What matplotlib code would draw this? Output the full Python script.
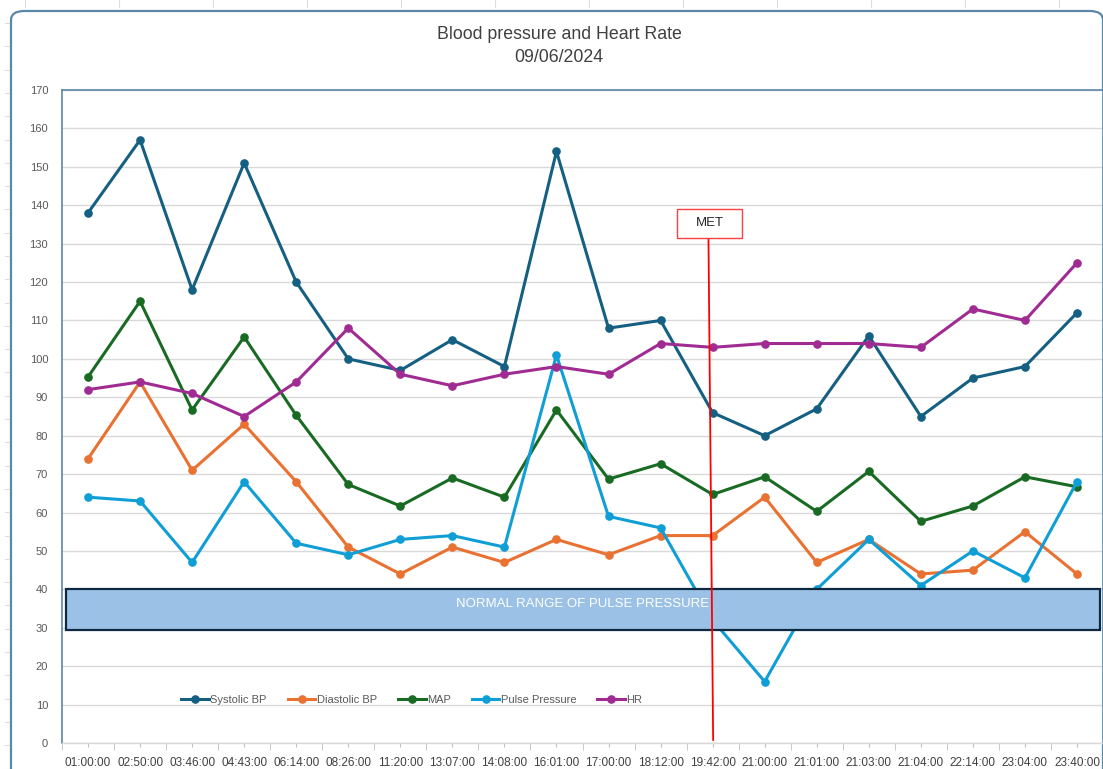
import matplotlib
matplotlib.use("Agg")
import matplotlib.pyplot as plt
import matplotlib.transforms as mtransforms
from matplotlib.patches import Rectangle, FancyBboxPatch
from matplotlib.lines import Line2D
import numpy as np

plt.rcParams['font.family'] = ['Liberation Sans', 'DejaVu Sans']

# readings for 09/06/2024
times = ["01:00:00", "02:50:00", "03:46:00", "04:43:00", "06:14:00", "08:26:00",
         "11:20:00", "13:07:00", "14:08:00", "16:01:00", "17:00:00", "18:12:00",
         "19:42:00", "21:00:00", "21:01:00", "21:03:00", "21:04:00", "22:14:00",
         "23:04:00", "23:40:00"]
systolic = [138, 157, 118, 151, 120, 100, 97, 105, 98, 154, 108, 110, 86, 80, 87, 106, 85, 95, 98, 112]
diastolic = [74, 94, 71, 83, 68, 51, 44, 51, 47, 53, 49, 54, 54, 64, 47, 53, 44, 45, 55, 44]
mean_ap = [95.3, 115.0, 86.7, 105.7, 85.3, 67.3, 61.7, 69.0, 64.0, 86.7, 68.7, 72.7, 64.7, 69.3,
           60.3, 70.7, 57.7, 61.7, 69.3, 66.7]
pulse_pressure = [64, 63, 47, 68, 52, 49, 53, 54, 51, 101, 59, 56, 32, 16, 40, 53, 41, 50, 43, 68]
heart_rate = [92, 94, 91, 85, 94, 108, 96, 93, 96, 98, 96, 104, 103, 104, 104, 104, 103, 113, 110, 125]

series_names = ["Systolic BP", "Diastolic BP", "MAP", "Pulse Pressure", "HR"]
series_colors = ["#156082", "#E97132", "#196B24", "#0F9ED5", "#A02B93"]

normal_pp = (29.3, 40)   # normal pulse pressure band
met_label = "MET"
met_time = "19:42:00"

W, H = 1103, 769
fig = plt.figure(figsize=(W / 100, H / 100), dpi=100)
fig.patch.set_facecolor("white")

# rounded chart frame
frame = FancyBboxPatch((11 / W, -20 / H), (1092) / W, (778) / H,
                       boxstyle="round,pad=0,rounding_size=0.012",
                       transform=fig.transFigure, facecolor="none",
                       edgecolor="#5B87A6", linewidth=1.6, zorder=-1)
fig.patches.append(frame)

# faint ruler marks outside the frame
for px in np.arange(25, W, 94):
    fig.add_artist(Line2D([px / W, px / W], [1 - 0 / H, 1 - 7 / H],
                          transform=fig.transFigure, color="#dcdcdc", lw=0.8))
for py in np.arange(23, H, 23.3):
    fig.add_artist(Line2D([5 / W, 9 / W], [1 - py / H, 1 - py / H],
                          transform=fig.transFigure, color="#dcdcdc", lw=0.8))

ax = fig.add_axes([62 / W, (H - 743) / H, 1041 / W, 653 / H])
ax.set_facecolor("white")
x = np.arange(len(times))

for vals, name, col in zip([systolic, diastolic, mean_ap, pulse_pressure, heart_rate],
                           series_names, series_colors):
    ax.plot(x, vals, color=col, lw=2.2, marker="o", markersize=5.2, label=name, zorder=3)

ax.set_xlim(-0.5, len(times) - 0.5)
ax.set_ylim(0, 170)
ax.set_yticks(np.arange(0, 171, 10))
ax.yaxis.grid(True, color="#d9d9d9", lw=1.0)
ax.set_axisbelow(True)
ax.tick_params(axis="y", length=0, labelsize=8, labelcolor="#595959", pad=10)

ax.set_xticks(x)
ax.set_xticklabels(times)
ax.set_xticks(np.arange(-0.5, len(times), 1), minor=True)
ax.tick_params(axis="x", which="major", length=3, color="#bfbfbf", labelsize=8.5,
               labelcolor="#404040", pad=7)
ax.tick_params(axis="x", which="minor", length=5, color="#bfbfbf")

for side in ["left", "top", "right"]:
    ax.spines[side].set_color("#5B87A6")
    ax.spines[side].set_linewidth(1.2)
ax.spines["bottom"].set_color("#d9d9d9")
ax.spines["bottom"].set_linewidth(1.0)

# normal range band
trans = mtransforms.blended_transform_factory(ax.transAxes, ax.transData)
band = Rectangle((0.004, normal_pp[0]), 0.993, normal_pp[1] - normal_pp[0], transform=trans,
                 facecolor="#9BC2E6", edgecolor="#0E2841", lw=1.6, zorder=5)
ax.add_patch(band)
ax.text(0.5, 36.3, "NORMAL RANGE OF PULSE PRESSURE", transform=trans, ha="center",
        va="center", color="white", fontsize=9.5, zorder=6)

# MET marker
mi = times.index(met_time)
ax.plot([mi - 0.08, mi + 0.01], [131.5, 0.8], color="#FF0000", lw=1.3, zorder=7,
        clip_on=False)
ax.add_patch(Rectangle((mi - 0.685, 131.5), 1.25, 7.6, facecolor="white",
                       edgecolor="#FF4040", lw=1.0, zorder=7))
ax.text(mi - 0.06, 135.3, met_label, ha="center", va="center", fontsize=9.5,
        color="#262626", zorder=8)

leg = ax.legend(loc="center", bbox_to_anchor=(0.336, 0.066), ncol=5, frameon=False,
                fontsize=8, handlelength=2.5, columnspacing=1.9, handletextpad=0.1)
for t in leg.get_texts():
    t.set_color("#595959")

fig.text(559 / W, 1 - 46 / H, "Blood pressure and Heart Rate\n09/06/2024", ha="center",
         va="center", fontsize=12.8, color="#404040", linespacing=1.4)

fig.savefig("out.png", dpi=100)
